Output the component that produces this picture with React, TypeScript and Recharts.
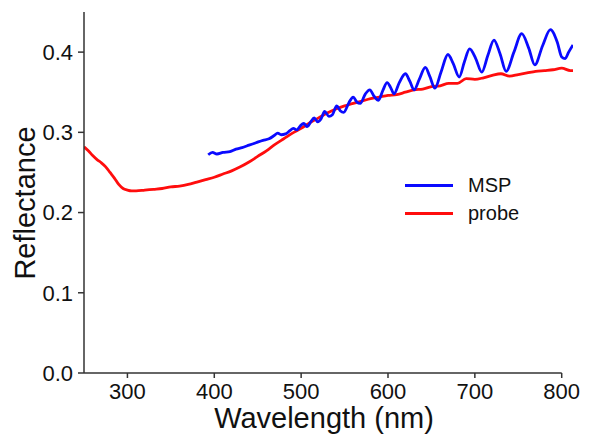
import React from 'react';
import { LineChart, Line, XAxis, YAxis, ReferenceLine, Label } from 'recharts';

// probe trace (red)
const probeWavelength = [
  250, 255, 260, 265, 270, 275, 280, 285, 290, 295, 300, 305, 310, 320, 330, 340, 350, 360, 370, 380,
  390, 400, 410, 420, 430, 440, 450, 460, 470, 480, 490, 500, 510, 520, 530, 540, 550, 560, 570, 580,
  590, 600, 610, 620, 630, 640, 650, 660, 670, 680, 690, 700, 710, 720, 730, 740, 750, 760, 770, 780,
  790, 800, 810, 813,
];
const probeReflectance = [
  0.282, 0.277, 0.271, 0.266, 0.262, 0.257, 0.25, 0.243, 0.235, 0.23, 0.228, 0.227, 0.227, 0.228, 0.229,
  0.23, 0.232, 0.233, 0.235, 0.238, 0.241, 0.244, 0.248, 0.252, 0.257, 0.263, 0.27, 0.277, 0.285, 0.292,
  0.299, 0.305, 0.312, 0.318, 0.324, 0.329, 0.333, 0.336, 0.339, 0.342, 0.344, 0.346, 0.347, 0.35, 0.353,
  0.354, 0.357, 0.358, 0.361, 0.361, 0.367, 0.366, 0.368, 0.371, 0.373, 0.37, 0.372, 0.374, 0.376, 0.377,
  0.378, 0.38, 0.377, 0.377,
];

// MSP trace (blue)
const mspWavelength = [
  393, 398, 403, 410, 418, 425, 432, 440, 448, 456, 463, 469, 473, 477, 482, 487, 491, 495, 499, 503,
  507, 511, 515, 519, 523, 527, 532, 536, 541, 545, 549, 555, 560, 564, 568, 574, 579, 584, 589, 594,
  599, 603, 607, 613, 620, 625, 630, 636, 643, 648, 654, 661, 669, 675, 682, 688, 694, 701, 708, 715,
  722, 729, 736, 745, 754, 762, 769, 778, 787, 795, 800, 804, 808, 813,
];
const mspReflectance = [
  0.272, 0.275, 0.273, 0.275, 0.276, 0.279, 0.281, 0.284, 0.287, 0.29, 0.292, 0.296, 0.299, 0.297, 0.298,
  0.302, 0.305, 0.303, 0.308, 0.311, 0.307, 0.313, 0.318, 0.313, 0.317, 0.326, 0.32, 0.322, 0.333, 0.327,
  0.325, 0.337, 0.344, 0.338, 0.336, 0.348, 0.353, 0.345, 0.34, 0.352, 0.362, 0.356, 0.348, 0.362, 0.373,
  0.364, 0.353, 0.366, 0.381, 0.37, 0.355, 0.375, 0.397, 0.386, 0.369, 0.388, 0.404, 0.392, 0.375, 0.396,
  0.415, 0.398, 0.376, 0.4, 0.423, 0.405, 0.384, 0.408, 0.428, 0.412, 0.394, 0.392, 0.4, 0.409,
];

const xTicks = [300, 400, 500, 600, 700, 800];
const yTicks = [0, 0.1, 0.2, 0.3, 0.4];

const series = [
  { name: 'MSP', color: '#0a0aff' },
  { name: 'probe', color: '#ff0d0d' },
];

const probeData = probeWavelength.map((w, i) => ({ w, r: probeReflectance[i] }));
const mspData = mspWavelength.map((w, i) => ({ w, r: mspReflectance[i] }));

const FONT = '"Liberation Sans", Arial, sans-serif';
const AXIS = '#333333';

// drawn over the chart as plain HTML, so it takes no room from the plot
const LegendBox = () => (
  <div style={{ position: 'absolute', left: 405, top: 171, fontFamily: FONT, fontSize: 20, color: '#111' }}>
    {series.map((s) => (
      <div key={s.name} style={{ display: 'flex', alignItems: 'center', height: 28 }}>
        <div style={{ width: 48, height: 3, background: s.color, marginRight: 15 }} />
        <span>{s.name}</span>
      </div>
    ))}
  </div>
);

export default function App() {
  return (
    <div style={{ position: 'absolute', left: 0, top: 0, width: 594, height: 435, background: '#fff' }}>
      <LineChart width={594} height={435} margin={{ top: 12, right: 21, bottom: 0, left: 0 }}>
        <XAxis
          dataKey="w"
          type="number"
          domain={[250, 813]}
          allowDataOverflow
          ticks={xTicks}
          axisLine={false}
          tickSize={5}
          tickMargin={5}
          height={62}
          tickLine={{ stroke: AXIS, strokeWidth: 1.5 }}
          tick={{ fill: '#111', fontSize: 22, fontFamily: FONT }}
        >
          <Label
            content={() => (
              <text x={324} y={428} textAnchor="middle" fontSize={29} fontFamily={FONT} fill="#111">
                Wavelength (nm)
              </text>
            )}
          />
        </XAxis>
        <YAxis
          dataKey="r"
          type="number"
          domain={[0, 0.45]}
          allowDataOverflow
          ticks={yTicks}
          tickFormatter={(v: number) => v.toFixed(1)}
          width={84}
          tickSize={6}
          tickMargin={5}
          axisLine={{ stroke: AXIS, strokeWidth: 1.5 }}
          tickLine={{ stroke: AXIS, strokeWidth: 1.5 }}
          tick={{ fill: '#111', fontSize: 22, fontFamily: FONT }}
        >
          <Label
            content={() => (
              <text
                x={35}
                y={203}
                transform="rotate(-90, 35, 203)"
                textAnchor="middle"
                fontSize={29}
                fontFamily={FONT}
                fill="#111"
              >
                Reflectance
              </text>
            )}
          />
        </YAxis>
        <ReferenceLine
          segment={[{ x: 250, y: 0 }, { x: 800, y: 0 }]}
          stroke={AXIS}
          strokeWidth={1.5}
          ifOverflow="visible"
        />
        <Line
          data={probeData}
          dataKey="r"
          name="probe"
          type="monotone"
          stroke={series[1].color}
          strokeWidth={2.8}
          dot={false}
          isAnimationActive={false}
        />
        <Line
          data={mspData}
          dataKey="r"
          name="MSP"
          type="monotone"
          stroke={series[0].color}
          strokeWidth={2.8}
          dot={false}
          isAnimationActive={false}
        />
      </LineChart>
      <LegendBox />
    </div>
  );
}
